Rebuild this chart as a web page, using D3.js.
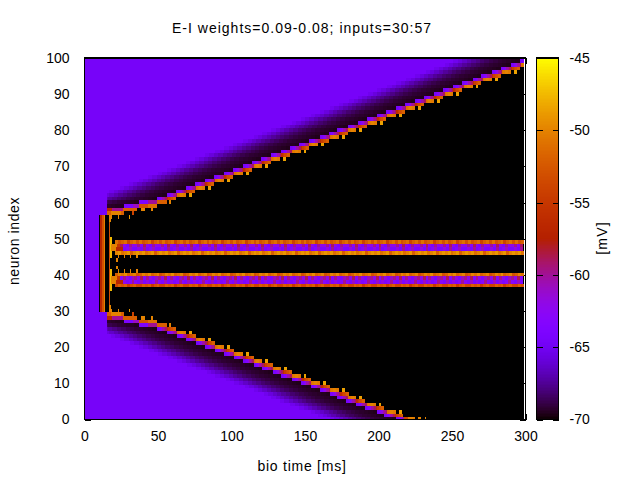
<!DOCTYPE html>
<html>
<head>
<meta charset="utf-8">
<script src="https://d3js.org/d3.v7.min.js"></script>
<style>
html, body { margin: 0; padding: 0; background: #fff; }
svg { display: block; }
text { font-family: "Liberation Sans", Arial, sans-serif; font-size: 14px; fill: #000; }
</style>
</head>
<body>
<div id="chart"></div>
<script>

// values, in ms and mV
var restVoltage = -64.6;
var blackVoltage = -70;

// bio time at which the front reaches each neuron
var lowerSpikeTimes = [212, 204, 199, 191, 185, 178, 172, 167, 160, 154, 147, 141, 134, 128, 121,
  115, 108, 102, 95, 89, 82, 76, 69, 63, 56, 49, 37, 27, 15, 15];  // neurons 0..29
var upperSpikeTimes = [15, 15, 27, 37, 49, 56, 62, 69, 75, 82, 88, 95, 101, 108, 114, 120, 127, 134,
  140, 146, 153, 160, 166, 172, 179, 186, 192, 199, 205, 212, 218, 225, 231, 238, 244, 251, 257,
  264, 270, 277, 283, 290, 296];  // neurons 57..99

// voltage after the front arrives, one value per ms
var evenRowProfile = [-64.6, -64.2, -63.5, -62, -60.5, -60, -59, -51, -50.5, -50, -50, -50.5, -50.5, -70, -70, -48.5, -48.5];
var oddRowProfile = [-64.6, -64.2, -63.5, -62, -60.5, -60, -59, -56, -54.5, -53.5, -53, -52, -52];

// voltage before the front arrives, one value per 3 ms counted back from the front
var inhibitionProfile = [-69.6, -69.5, -69.4, -69.3, -69.2, -69, -68.8, -68.5, -68.2, -67.8, -67.4, -66.9,
  -66.4, -65.8, -65.2];

var firstFrontTime = 15;

// the two bands that keep firing, one value per 2 ms, top row first
var bandStartTimes = [21, 18, 18, 21];
var upperBandRows = [49, 48, 47, 46];
var upperBandValues = [
  [-51, -53, -52, -51, -54, -52, -51, -53],
  [-62, -60, -63, -59, -62, -64, -60, -62],
  [-64, -62, -64, -60, -64, -63, -61, -64],
  [-50, -49, -51, -50, -49, -52, -50, -49]
];
var lowerBandRows = [40, 39, 38, 37];
var lowerBandValues = [
  [-52, -50, -51, -49.5, -52, -51, -50, -53],
  [-60, -62, -59, -63, -60, -62, -64, -61],
  [-63, -64, -61, -64, -62, -64, -63, -60],
  [-54, -52, -53, -52, -55, -53, -52, -54]
];

// first spike of the input neurons: [first row, last row, t0, t1, mV]
var inputCells = [
  [30, 56, 10.5, 11.7, -57], [30, 56, 11.7, 13, -53], [30, 56, 13, 14.2, -50],
  [30, 56, 16.7, 17.3, -53],
  [45, 50, 17.3, 18.7, -47.5], [36, 41, 17.3, 18.7, -47.5],
  [48, 48, 18, 22, -50], [48, 48, 22, 24, -55],
  [47, 47, 18, 21.5, -50], [47, 47, 21.5, 26, -57],
  [39, 39, 18, 22, -50], [39, 39, 22, 24, -55],
  [38, 38, 18, 21.5, -50], [38, 38, 21.5, 26, -57],
  [45, 45, 23, 23.7, -50], [45, 45, 27, 27.7, -50], [45, 45, 31, 31.7, -50], [45, 45, 35, 36.5, -50],
  [41, 41, 23, 23.7, -50], [41, 41, 27, 27.7, -50], [41, 41, 31, 31.7, -50], [41, 41, 35, 36.5, -50],
  [44, 44, 21.5, 23, -50], [42, 42, 21.5, 23, -50]
];

// first steps of the front, upper neurons; neuron 86 - n has the same cells: [n, t0, t1, mV]
var earlyFrontCells = [
  [55, 17, 18, -50], [56, 17, 18.5, -50], [56, 22.5, 23.2, -50], [56, 30, 31.2, -49],
  [57, 15, 18, -52], [57, 18, 25, -50], [57, 25, 27, -52], [57, 27, 32, -70], [57, 32, 33.5, -54],
  [58, 15, 19, -57], [58, 19, 26, -60], [58, 26, 35.5, -52], [58, 38.5, 41, -50], [58, 45, 46.5, -50],
  [59, 27, 33, -64], [59, 33, 37, -61], [59, 37, 43, -53], [59, 43, 49, -51],
  [60, 37, 43, -64], [60, 43, 49, -60], [60, 49, 56, -52], [60, 57.5, 59, -50]
];

// last cells of the front at the bottom edge: [neuron, t0, t1, mV]
var lastFrontCells = [
  [0, 217.5, 220, -54], [0, 220, 223.6, -50], [0, 227, 229, -50], [0, 231.5, 232.2, -50]
];

var colorbarTicks = [-70, -65, -60, -55, -50, -45];

// page layout
var width = 640, height = 480;
var plotLeft = 84.5, plotRight = 525.5, plotTop = 58, plotBottom = 419.5;

var x = d3.scaleLinear().domain([0, 300]).range([plotLeft, plotRight]);
var y = d3.scaleLinear().domain([0, 100]).range([plotBottom, plotTop]);
var cb = d3.scaleLinear().domain([-70, -45]).range([plotBottom, plotTop]);
var level = d3.scaleLinear().domain([-70, -45]).range([0, 1]).clamp(true);

// gnuplot's default pm3d palette (rgbformulae 7,5,15)
function palette(v) {
  var g = level(v);
  return d3.rgb(
    255 * Math.sqrt(g),
    255 * g * g * g,
    255 * Math.max(0, Math.sin(2 * Math.PI * g))
  ).formatHex();
}

function spikeTime(row) {
  if (row <= 29) return lowerSpikeTimes[row];
  if (row >= 57) return upperSpikeTimes[row - 57];
  return null;
}

// voltage of a neuron during one ms
function voltage(row, t) {
  if (t < firstFrontTime) return row >= 30 && row <= 56 ? (t < 10 ? restVoltage : blackVoltage) : restVoltage;
  var s = spikeTime(row);
  if (s === null) return blackVoltage;
  if (t < s) {
    var back = Math.floor((s - t - 1) / 3);
    return back < inhibitionProfile.length ? inhibitionProfile[back] : restVoltage;
  }
  var profile = row % 2 === 0 ? evenRowProfile : oddRowProfile;
  return t - s < profile.length ? profile[t - s] : blackVoltage;
}

var svg = d3.select("#chart").append("svg")
  .attr("width", width)
  .attr("height", height);

// the image covers the tics, only the small gaps at its edges show them
var ticksX = d3.range(0, 301, 50), ticksY = d3.range(0, 101, 10);

var axisBottom = svg.append("g")
  .attr("transform", "translate(0," + plotBottom + ")")
  .call(d3.axisBottom(x).tickValues(ticksX).tickSize(-6).tickPadding(12));
var axisLeft = svg.append("g")
  .attr("transform", "translate(" + plotLeft + ",0)")
  .call(d3.axisLeft(y).tickValues(ticksY).tickSize(-6).tickPadding(15));
var axisTop = svg.append("g")
  .attr("transform", "translate(0," + plotTop + ")")
  .call(d3.axisTop(x).tickValues(ticksX).tickSize(-6).tickFormat(""));
var axisRight = svg.append("g")
  .attr("transform", "translate(" + plotRight + ",0)")
  .call(d3.axisRight(y).tickValues(ticksY).tickSize(-6).tickFormat(""));

[axisBottom, axisLeft, axisTop, axisRight].forEach(function(a) {
  a.select(".domain").remove();
  a.attr("font-family", null).attr("font-size", null);
  a.selectAll("line").attr("stroke", "#000").attr("shape-rendering", "crispEdges");
});

// heat map: one rect per run of equal voltage along a neuron's row
var image = svg.append("g").attr("shape-rendering", "crispEdges");

var timeSteps = d3.range(0, 299);
var rows = d3.range(0, 100);
var runs = [];

rows.forEach(function(row) {
  var start = 0, current = voltage(row, 0);
  timeSteps.forEach(function(t) {
    var v = voltage(row, t);
    if (v !== current) {
      runs.push({first: row, last: row, t0: start, t1: t, v: current});
      start = t;
      current = v;
    }
  });
  runs.push({first: row, last: row, t0: start, t1: 298.9, v: current});
});

upperBandRows.forEach(function(row, i) {
  d3.range(bandStartTimes[i], 298, 2).forEach(function(t, k) {
    var values = upperBandValues[i];
    runs.push({first: row, last: row, t0: t, t1: Math.min(t + 2, 298.9), v: values[k % values.length]});
  });
});
lowerBandRows.forEach(function(row, i) {
  d3.range(bandStartTimes[i], 298, 2).forEach(function(t, k) {
    var values = lowerBandValues[i];
    runs.push({first: row, last: row, t0: t, t1: Math.min(t + 2, 298.9), v: values[k % values.length]});
  });
});

inputCells.forEach(function(c) {
  runs.push({first: c[0], last: c[1], t0: c[2], t1: c[3], v: c[4]});
});
earlyFrontCells.forEach(function(c) {
  runs.push({first: c[0], last: c[0], t0: c[1], t1: c[2], v: c[3]});
  runs.push({first: 86 - c[0], last: 86 - c[0], t0: c[1], t1: c[2], v: c[3]});
});
lastFrontCells.forEach(function(c) {
  runs.push({first: c[0], last: c[0], t0: c[1], t1: c[2], v: c[3]});
});

// cells sit 0.4 below the integer, so neuron 0 is cut by the axis
image.selectAll("rect")
  .data(runs)
  .enter()
  .append("rect")
  .attr("x", function(d) { return x(d.t0); })
  .attr("width", function(d) { return x(d.t1) - x(d.t0); })
  .attr("y", function(d) { return y(d.last + 0.6); })
  .attr("height", function(d) { return y(Math.max(0, d.first - 0.4)) - y(d.last + 0.6); })
  .attr("fill", function(d) { return palette(d.v); });

// frame
svg.append("rect")
  .attr("x", plotLeft).attr("y", plotTop)
  .attr("width", plotRight - plotLeft).attr("height", plotBottom - plotTop)
  .attr("fill", "none").attr("stroke", "#000").attr("stroke-width", 1.2)
  .attr("shape-rendering", "crispEdges");

// colour box
var cbLeft = 536.5, cbRight = 558.5;
var cbLevels = d3.range(-70, -45, 0.1);

svg.append("g").attr("shape-rendering", "crispEdges")
  .selectAll("rect")
  .data(cbLevels)
  .enter()
  .append("rect")
  .attr("x", cbLeft)
  .attr("width", cbRight - cbLeft)
  .attr("y", function(d) { return cb(d + 0.1); })
  .attr("height", function(d) { return cb(d) - cb(d + 0.1) + 0.5; })
  .attr("fill", palette);

// plain hyphen in the labels, as gnuplot prints them
var cbAxis = svg.append("g")
  .attr("transform", "translate(" + cbRight + ",0)")
  .call(d3.axisRight(cb).tickValues(colorbarTicks).tickSize(-6).tickPadding(11).tickFormat(String));
cbAxis.select(".domain").remove();
cbAxis.attr("font-family", null).attr("font-size", null);
cbAxis.selectAll("line").attr("stroke", "#000").attr("shape-rendering", "crispEdges");

svg.append("g").selectAll("line")
  .data(colorbarTicks)
  .enter()
  .append("line")
  .attr("x1", cbLeft).attr("x2", cbLeft + 6)
  .attr("y1", function(d) { return Math.round(cb(d)) + 0.5; })
  .attr("y2", function(d) { return Math.round(cb(d)) + 0.5; })
  .attr("stroke", "#000")
  .attr("shape-rendering", "crispEdges");

svg.append("rect")
  .attr("x", cbLeft).attr("y", plotTop)
  .attr("width", cbRight - cbLeft).attr("height", plotBottom - plotTop)
  .attr("fill", "none").attr("stroke", "#000").attr("stroke-width", 1.2)
  .attr("shape-rendering", "crispEdges");

// labels
svg.append("text")
  .attr("x", 302).attr("y", 33)
  .attr("text-anchor", "middle")
  .attr("letter-spacing", 1)
  .text("E-I weights=0.09-0.08; inputs=30:57");

svg.append("text")
  .attr("x", 302).attr("y", 471)
  .attr("text-anchor", "middle")
  .attr("letter-spacing", 0.75)
  .text("bio time [ms]");

svg.append("text")
  .attr("transform", "translate(19,241) rotate(-90)")
  .attr("text-anchor", "middle")
  .attr("letter-spacing", 0.6)
  .text("neuron index");

svg.append("text")
  .attr("transform", "translate(607,238) rotate(-90)")
  .attr("text-anchor", "middle")
  .attr("letter-spacing", 1.2)
  .text("[mV]");

</script>
</body>
</html>
